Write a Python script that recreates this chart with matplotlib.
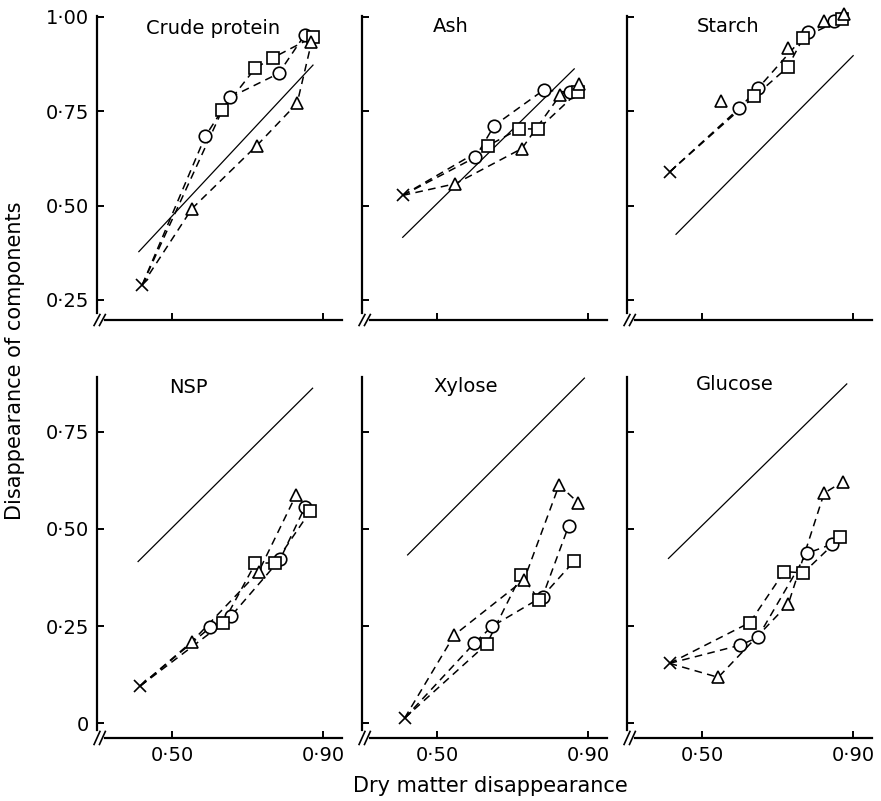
import matplotlib
matplotlib.use("Agg")
import matplotlib.pyplot as plt

# panel names
panels = ["Crude protein", "Ash", "Starch", "NSP", "Xylose", "Glucose"]

# common starting point (X) for each panel
start_x = [0.420, 0.408, 0.413, 0.415, 0.413, 0.413]
start_y = [0.290, 0.527, 0.589, 0.096, 0.013, 0.154]

# circles
circ_x = [[0.587, 0.654, 0.782, 0.851],
          [0.601, 0.651, 0.782, 0.852],
          [0.598, 0.648, 0.779, 0.850],
          [0.601, 0.656, 0.786, 0.852],
          [0.598, 0.645, 0.779, 0.848],
          [0.601, 0.647, 0.777, 0.845]]
circ_y = [[0.683, 0.787, 0.850, 0.952],
          [0.628, 0.712, 0.806, 0.800],
          [0.758, 0.811, 0.959, 0.989],
          [0.247, 0.276, 0.422, 0.557],
          [0.206, 0.249, 0.326, 0.507],
          [0.201, 0.221, 0.437, 0.461]]

# squares
sq_x = [[0.632, 0.720, 0.766, 0.874],
        [0.635, 0.717, 0.768, 0.872],
        [0.638, 0.726, 0.768, 0.870],
        [0.634, 0.720, 0.773, 0.866],
        [0.631, 0.722, 0.770, 0.863],
        [0.626, 0.717, 0.768, 0.866]]
sq_y = [[0.752, 0.864, 0.891, 0.947],
        [0.659, 0.703, 0.703, 0.800],
        [0.789, 0.866, 0.945, 0.994],
        [0.257, 0.411, 0.413, 0.546],
        [0.204, 0.381, 0.317, 0.417],
        [0.259, 0.390, 0.387, 0.478]]

# triangles
tri_x = [[0.552, 0.724, 0.831, 0.869],
         [0.548, 0.724, 0.826, 0.876],
         [0.550, 0.726, 0.823, 0.876],
         [0.552, 0.729, 0.828],
         [0.545, 0.730, 0.823, 0.874],
         [0.542, 0.728, 0.823, 0.872]]
tri_y = [[0.492, 0.659, 0.771, 0.932],
         [0.558, 0.651, 0.793, 0.822],
         [0.778, 0.916, 0.989, 1.007],
         [0.210, 0.390, 0.587],
         [0.227, 0.369, 0.613, 0.567],
         [0.118, 0.307, 0.592, 0.621]]

# solid reference line (line of equality)
ref_x = [(0.411, 0.873), (0.408, 0.863), (0.430, 0.900),
         (0.409, 0.872), (0.421, 0.890), (0.410, 0.883)]
ref_y = [(0.378, 0.872), (0.416, 0.862), (0.424, 0.897),
         (0.416, 0.862), (0.433, 0.888), (0.424, 0.873)]

# title anchor (x, baseline y) in data units
title_pos = [(0.607, 0.954), (0.535, 0.959), (0.567, 0.959),
             (0.543, 0.849), (0.574, 0.853), (0.587, 0.857)]

top_yticks = [0.25, 0.50, 0.75, 1.00]
top_ylabels = ["0·25", "0·50", "0·75", "1·00"]
bot_yticks = [0, 0.25, 0.50, 0.75]
bot_ylabels = ["0", "0·25", "0·50", "0·75"]
xticks = [0.50, 0.90]
xlabels = ["0·50", "0·90"]

fig = plt.figure(figsize=(8.81, 8.01), dpi=100)

lefts = [0.1101, 0.4109, 0.7117]
w = 0.2781
dash = (0, (5, 3.5))

for i, name in enumerate(panels):
    row, col = divmod(i, 3)
    if row == 0:
        ax = fig.add_axes([lefts[col], 0.6005, w, 0.3795])
        ax.set_ylim(0.197, 1.002)
        ax.set_yticks(top_yticks)
        ax.set_yticklabels(top_ylabels)
        ax.spines["left"].set_bounds(0.215, 1.002)
    else:
        ax = fig.add_axes([lefts[col], 0.0787, w, 0.4507])
        ax.set_ylim(-0.038, 0.891)
        ax.set_yticks(bot_yticks)
        ax.set_yticklabels(bot_ylabels)
        ax.spines["left"].set_bounds(-0.018, 0.891)
    ax.set_xlim(0.30, 0.95)
    ax.set_xticks(xticks)
    if row == 1:
        ax.set_xticklabels(xlabels)
    else:
        ax.set_xticklabels([])
    if col > 0:
        ax.set_yticklabels([])
    ax.spines["bottom"].set_bounds(0.322, 0.95)
    for s in ["top", "right"]:
        ax.spines[s].set_visible(False)
    for s in ["left", "bottom"]:
        ax.spines[s].set_linewidth(1.6)
    ax.tick_params(direction="in", length=5, width=1.4, labelsize=14, pad=6)
    ax.patch.set_alpha(0)

    # axis break marks
    for dx in (0.0, 0.022):
        ax.plot([-0.012 + dx, 0.012 + dx], [-0.018, 0.018], color="black",
                lw=1.2, transform=ax.transAxes, clip_on=False)

    # reference line
    ax.plot(ref_x[i], ref_y[i], color="black", lw=0.9)

    # dashed series from the X point
    for xs, ys, mk in [(circ_x[i], circ_y[i], "o"),
                       (sq_x[i], sq_y[i], "s"),
                       (tri_x[i], tri_y[i], "^")]:
        if not (name == "Starch" and mk == "^"):
            ax.plot([start_x[i]] + xs, [start_y[i]] + ys, color="black",
                    lw=1.1, ls=dash, zorder=2)
        ax.plot(xs, ys, ls="none", marker=mk, ms=9, mfc="white",
                mec="black", mew=1.2, zorder=3, clip_on=False)
    ax.plot(start_x[i], start_y[i], ls="none", marker="x", ms=8,
            color="black", mew=1.2, zorder=3)

    tx, ty = title_pos[i]
    ax.text(tx, ty, name, ha="center", va="baseline", fontsize=14)

fig.text(0.017, 0.55, "Disappearance of components", rotation=90,
         ha="center", va="center", fontsize=15)
fig.text(0.557, 0.019, "Dry matter disappearance", ha="center",
         va="center", fontsize=15)

fig.savefig("out.png", dpi=100)
